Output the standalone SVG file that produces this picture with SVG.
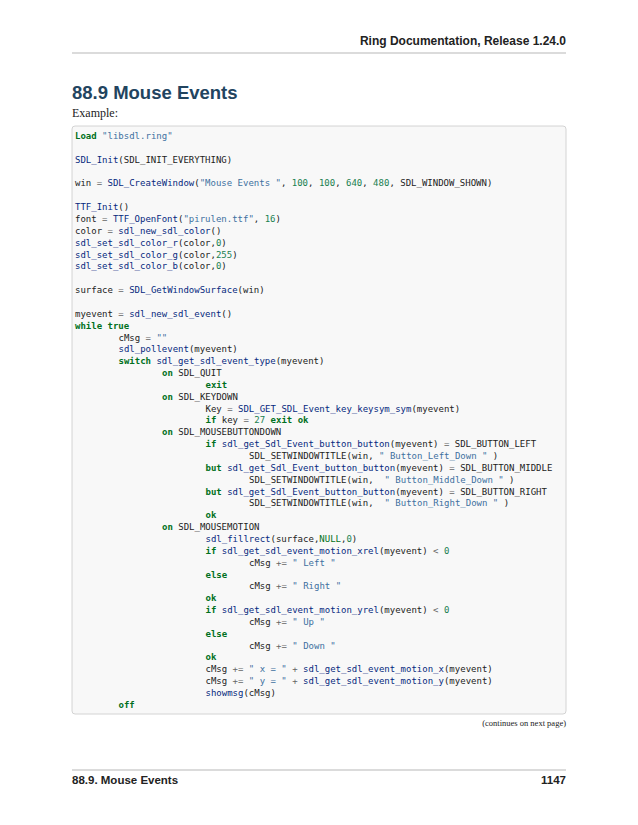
<svg xmlns="http://www.w3.org/2000/svg" width="638" height="825" viewBox="0 0 638 825">
<style>
.c{font-family:"DejaVu Sans Mono",monospace;font-size:9px;fill:#222}
.k{fill:#007020;font-weight:bold}
.f{fill:#06287e}
.s{fill:#4070a0}
.n{fill:#208050}
.o{fill:#666}
.h{font-family:"Liberation Sans",Arial,sans-serif;font-weight:bold;fill:#222}
</style>
<rect width="638" height="825" fill="#fff"/>
<text class="h" x="566" y="45" font-size="12" text-anchor="end">Ring Documentation, Release 1.24.0</text>
<line x1="72" y1="53" x2="566" y2="53" stroke="#888" stroke-width="0.6"/>
<text class="h" x="72" y="99" font-size="18.5" style="fill:#22445f">88.9  Mouse Events</text>
<text x="72" y="117" font-family="Liberation Serif,serif" font-size="12" fill="#222">Example:</text>
<g id="codebox">
<rect x="72" y="126" width="494" height="588" rx="3" fill="#f8f8f8" stroke="#c9c9c9" stroke-width="0.8"/>
<text class="c" xml:space="preserve">
<tspan x="75" y="139"><tspan class="k">Load</tspan> <tspan class="s">"libsdl.ring"</tspan></tspan>
<tspan x="75" y="162.7"><tspan class="f">SDL_Init</tspan>(SDL_INIT_EVERYTHING)</tspan>
<tspan x="75" y="186.4">win <tspan class="o">=</tspan> <tspan class="f">SDL_CreateWindow</tspan>(<tspan class="s">"Mouse Events "</tspan>, <tspan class="n">100</tspan>, <tspan class="n">100</tspan>, <tspan class="n">640</tspan>, <tspan class="n">480</tspan>, SDL_WINDOW_SHOWN)</tspan>
<tspan x="75" y="210.1"><tspan class="f">TTF_Init</tspan>()</tspan>
<tspan x="75" y="222">font <tspan class="o">=</tspan> <tspan class="f">TTF_OpenFont</tspan>(<tspan class="s">"pirulen.ttf"</tspan>, <tspan class="n">16</tspan>)</tspan>
<tspan x="75" y="233.8">color <tspan class="o">=</tspan> <tspan class="f">sdl_new_sdl_color</tspan>()</tspan>
<tspan x="75" y="245.7"><tspan class="f">sdl_set_sdl_color_r</tspan>(color,<tspan class="n">0</tspan>)</tspan>
<tspan x="75" y="257.5"><tspan class="f">sdl_set_sdl_color_g</tspan>(color,<tspan class="n">255</tspan>)</tspan>
<tspan x="75" y="269.4"><tspan class="f">sdl_set_sdl_color_b</tspan>(color,<tspan class="n">0</tspan>)</tspan>
<tspan x="75" y="293.1">surface <tspan class="o">=</tspan> <tspan class="f">SDL_GetWindowSurface</tspan>(win)</tspan>
<tspan x="75" y="316.8">myevent <tspan class="o">=</tspan> <tspan class="f">sdl_new_sdl_event</tspan>()</tspan>
<tspan x="75" y="328.6"><tspan class="k">while</tspan> <tspan class="k">true</tspan></tspan>
<tspan x="118.5" y="340.5">cMsg <tspan class="o">=</tspan> <tspan class="s">""</tspan></tspan>
<tspan x="118.5" y="352.3"><tspan class="f">sdl_pollevent</tspan>(myevent)</tspan>
<tspan x="118.5" y="364.2"><tspan class="k">switch</tspan> <tspan class="f">sdl_get_sdl_event_type</tspan>(myevent)</tspan>
<tspan x="162" y="376"><tspan class="k">on</tspan> SDL_QUIT</tspan>
<tspan x="205.5" y="387.9"><tspan class="k">exit</tspan></tspan>
<tspan x="162" y="399.7"><tspan class="k">on</tspan> SDL_KEYDOWN</tspan>
<tspan x="205.5" y="411.6">Key <tspan class="o">=</tspan> <tspan class="f">SDL_GET_SDL_Event_key_keysym_sym</tspan>(myevent)</tspan>
<tspan x="205.5" y="423.4"><tspan class="k">if</tspan> key <tspan class="o">=</tspan> <tspan class="n">27</tspan> <tspan class="k">exit</tspan> <tspan class="k">ok</tspan></tspan>
<tspan x="162" y="435.3"><tspan class="k">on</tspan> SDL_MOUSEBUTTONDOWN</tspan>
<tspan x="205.5" y="447.1"><tspan class="k">if</tspan> <tspan class="f">sdl_get_Sdl_Event_button_button</tspan>(myevent) <tspan class="o">=</tspan> SDL_BUTTON_LEFT</tspan>
<tspan x="249" y="459">SDL_SETWINDOWTITLE(win, <tspan class="s">" Button_Left_Down "</tspan> )</tspan>
<tspan x="205.5" y="470.8"><tspan class="k">but</tspan> <tspan class="f">sdl_get_Sdl_Event_button_button</tspan>(myevent) <tspan class="o">=</tspan> SDL_BUTTON_MIDDLE</tspan>
<tspan x="249" y="482.7">SDL_SETWINDOWTITLE(win,  <tspan class="s">" Button_Middle_Down "</tspan> )</tspan>
<tspan x="205.5" y="494.5"><tspan class="k">but</tspan> <tspan class="f">sdl_get_Sdl_Event_button_button</tspan>(myevent) <tspan class="o">=</tspan> SDL_BUTTON_RIGHT</tspan>
<tspan x="249" y="506.4">SDL_SETWINDOWTITLE(win,  <tspan class="s">" Button_Right_Down "</tspan> )</tspan>
<tspan x="205.5" y="518.2"><tspan class="k">ok</tspan></tspan>
<tspan x="162" y="530.1"><tspan class="k">on</tspan> SDL_MOUSEMOTION</tspan>
<tspan x="205.5" y="541.9"><tspan class="f">sdl_fillrect</tspan>(surface,<tspan class="k" style="font-weight:normal">NULL</tspan>,<tspan class="n">0</tspan>)</tspan>
<tspan x="205.5" y="553.8"><tspan class="k">if</tspan> <tspan class="f">sdl_get_sdl_event_motion_xrel</tspan>(myevent) <tspan class="o">&lt;</tspan> <tspan class="n">0</tspan></tspan>
<tspan x="249" y="565.6">cMsg <tspan class="o">+=</tspan> <tspan class="s">" Left "</tspan></tspan>
<tspan x="205.5" y="577.5"><tspan class="k">else</tspan></tspan>
<tspan x="249" y="589.3">cMsg <tspan class="o">+=</tspan> <tspan class="s">" Right "</tspan></tspan>
<tspan x="205.5" y="601.2"><tspan class="k">ok</tspan></tspan>
<tspan x="205.5" y="613"><tspan class="k">if</tspan> <tspan class="f">sdl_get_sdl_event_motion_yrel</tspan>(myevent) <tspan class="o">&lt;</tspan> <tspan class="n">0</tspan></tspan>
<tspan x="249" y="624.9">cMsg <tspan class="o">+=</tspan> <tspan class="s">" Up "</tspan></tspan>
<tspan x="205.5" y="636.7"><tspan class="k">else</tspan></tspan>
<tspan x="249" y="648.6">cMsg <tspan class="o">+=</tspan> <tspan class="s">" Down "</tspan></tspan>
<tspan x="205.5" y="660.4"><tspan class="k">ok</tspan></tspan>
<tspan x="205.5" y="672.3">cMsg <tspan class="o">+=</tspan> <tspan class="s">" x = "</tspan> <tspan class="o">+</tspan> <tspan class="f">sdl_get_sdl_event_motion_x</tspan>(myevent)</tspan>
<tspan x="205.5" y="684.1">cMsg <tspan class="o">+=</tspan> <tspan class="s">" y = "</tspan> <tspan class="o">+</tspan> <tspan class="f">sdl_get_sdl_event_motion_y</tspan>(myevent)</tspan>
<tspan x="205.5" y="696"><tspan class="f">showmsg</tspan>(cMsg)</tspan>
<tspan x="118.5" y="707.8"><tspan class="k">off</tspan></tspan>
</text>
</g>
<text x="566" y="726" font-family="Liberation Serif,serif" font-size="8.5" fill="#222" text-anchor="end">(continues on next page)</text>
<line x1="72" y1="770" x2="566" y2="770" stroke="#888" stroke-width="0.6"/>
<text class="h" x="72" y="784" font-size="11.5">88.9. Mouse Events</text>
<text class="h" x="566" y="784" font-size="11.5" text-anchor="end">1147</text>
</svg>
